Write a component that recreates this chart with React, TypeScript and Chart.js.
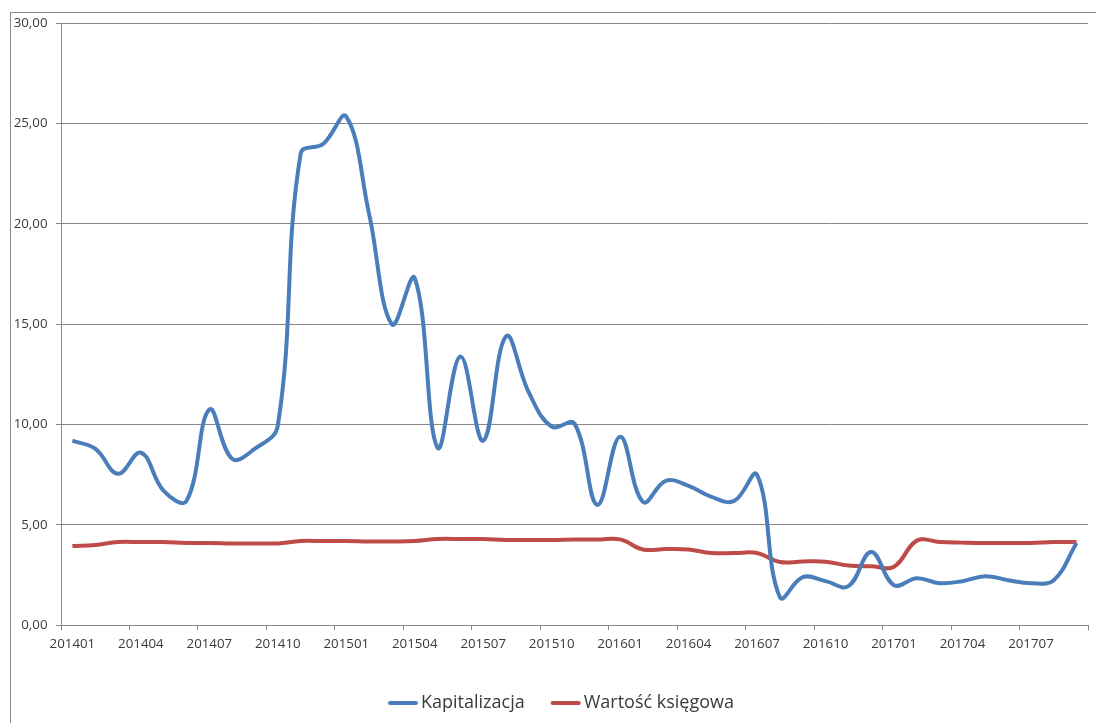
import React, { useEffect, useRef } from "react";
import { Chart, registerables } from "chart.js";

Chart.register(...registerables);

// Monthly periods (YYYYMM)
const months = [
  "201401", "201402", "201403", "201404", "201405", "201406", "201407", "201408", "201409",
  "201410", "201411", "201412", "201501", "201502", "201503", "201504", "201505", "201506",
  "201507", "201508", "201509", "201510", "201511", "201512", "201601", "201602", "201603",
  "201604", "201605", "201606", "201607", "201608", "201609", "201610", "201611", "201612",
  "201701", "201702", "201703", "201704", "201705", "201706", "201707", "201708", "201709",
];

// Market capitalisation
const kapitalizacja = [
  9.2, 8.8, 7.55, 8.6, 6.7, 6.2, 10.75, 8.3, 8.8,
  9.95, 23.5, 24.0, 25.35, 20.5, 15.0, 17.3, 8.85, 13.4,
  9.2, 14.4, 11.6, 9.9, 10.05, 6.0, 9.4, 6.15, 7.2,
  6.95, 6.4, 6.2, 7.5, 1.4, 2.4, 2.2, 1.95, 3.65,
  2.0, 2.35, 2.1, 2.2, 2.45, 2.25, 2.1, 2.25, 4.1,
];

// Book value
const wartoscKsiegowa = [
  3.95, 4.0, 4.15, 4.15, 4.15, 4.1, 4.1, 4.08, 4.08,
  4.08, 4.2, 4.2, 4.2, 4.18, 4.18, 4.2, 4.3, 4.3,
  4.3, 4.25, 4.25, 4.25, 4.27, 4.27, 4.28, 3.78, 3.8,
  3.78, 3.6, 3.6, 3.6, 3.15, 3.18, 3.17, 2.98, 2.94,
  2.92, 4.22, 4.15, 4.12, 4.1, 4.1, 4.1, 4.15, 4.15,
];

const seriesNames = ["Kapitalizacja", "Wartość księgowa"];
const seriesColors = ["#4A7EBB", "#BE4B48"];

const FONT = "'Open Sans', sans-serif";
const AXIS_GRAY = "#888888";
const TEXT_COLOR = "#3a3a3a";

// Legend drawn centred under the plot, short thick line swatches before each label
const bottomLegend = {
  id: "bottomLegend",
  afterDraw(chart: any) {
    const ctx = chart.ctx as CanvasRenderingContext2D;
    const cy = 703;
    const cx = 561;
    const swatch = 30;
    const gap = 3;
    const itemGap = 26;
    ctx.save();
    ctx.font = `18px ${FONT}`;
    const items = chart.data.datasets.map((ds: any) => ({
      label: ds.label as string,
      color: ds.borderColor as string,
      w: ctx.measureText(ds.label).width,
    }));
    const total =
      items.reduce((s: number, it: any) => s + swatch + gap + it.w, 0) +
      itemGap * (items.length - 1);
    let x = cx - total / 2;
    items.forEach((it: any) => {
      ctx.strokeStyle = it.color;
      ctx.lineWidth = 4;
      ctx.lineCap = "round";
      ctx.beginPath();
      ctx.moveTo(x + 2, cy);
      ctx.lineTo(x + swatch - 2, cy);
      ctx.stroke();
      x += swatch + gap;
      ctx.fillStyle = TEXT_COLOR;
      ctx.textBaseline = "middle";
      ctx.textAlign = "left";
      ctx.fillText(it.label, x, cy);
      x += it.w + itemGap;
    });
    ctx.restore();
  },
};

function LineChart() {
  const canvasRef = useRef<HTMLCanvasElement>(null);

  useEffect(() => {
    if (!canvasRef.current) return;
    const chart = new Chart(canvasRef.current, {
      type: "line",
      data: {
        labels: months,
        datasets: [
          {
            label: seriesNames[0],
            data: kapitalizacja,
            borderColor: seriesColors[0],
            backgroundColor: seriesColors[0],
            borderWidth: 4,
            pointRadius: 0,
            tension: 0.4,
            fill: false,
          },
          {
            label: seriesNames[1],
            data: wartoscKsiegowa,
            borderColor: seriesColors[1],
            backgroundColor: seriesColors[1],
            borderWidth: 4,
            pointRadius: 0,
            tension: 0.4,
            fill: false,
          },
        ],
      },
      options: {
        animation: false,
        responsive: false,
        maintainAspectRatio: false,
        layout: { padding: { top: 23.3, right: 8, left: 0, bottom: 0 } },
        plugins: {
          legend: { display: false },
          tooltip: { enabled: false },
        },
        scales: {
          x: {
            offset: true,
            afterFit: (scale: any) => {
              scale.height = 97.7;
            },
            grid: {
              drawOnChartArea: false,
              offset: true,
              tickLength: 5,
              color: (ctx: any) =>
                ctx.index === undefined || ctx.index % 3 === 0 ? AXIS_GRAY : "rgba(0,0,0,0)",
            },
            border: { color: AXIS_GRAY, width: 1 },
            ticks: {
              autoSkip: false,
              maxRotation: 0,
              minRotation: 0,
              padding: 6,
              color: TEXT_COLOR,
              font: { family: FONT, size: 13.3 },
              callback: (_v: any, i: number) => (i % 3 === 0 ? months[i] : ""),
            },
          },
          y: {
            min: 0,
            max: 30,
            afterFit: (scale: any) => {
              scale.width = 61;
            },
            grid: {
              color: AXIS_GRAY,
              tickLength: 5,
              drawTicks: true,
            },
            border: { color: AXIS_GRAY, width: 1 },
            ticks: {
              stepSize: 5,
              padding: 8.5,
              color: TEXT_COLOR,
              font: { family: FONT, size: 13.3 },
              callback: (v: any) => Number(v).toFixed(2).replace(".", ","),
            },
          },
        },
      },
      plugins: [bottomLegend],
    });
    return () => chart.destroy();
  }, []);

  return (
    <canvas
      ref={canvasRef}
      width={1096}
      height={723}
      style={{ position: "absolute", left: 0, top: 0, width: 1096, height: 723 }}
    />
  );
}

export default function App() {
  return (
    <div
      style={{
        position: "absolute",
        left: 0,
        top: 0,
        width: 1096,
        height: 723,
        overflow: "hidden",
        background: "#ffffff",
      }}
    >
      <div
        style={{
          position: "absolute",
          left: 10,
          top: 12,
          width: 1200,
          height: 800,
          borderTop: `1px solid ${AXIS_GRAY}`,
          borderLeft: `1px solid ${AXIS_GRAY}`,
        }}
      />
      <LineChart />
    </div>
  );
}
